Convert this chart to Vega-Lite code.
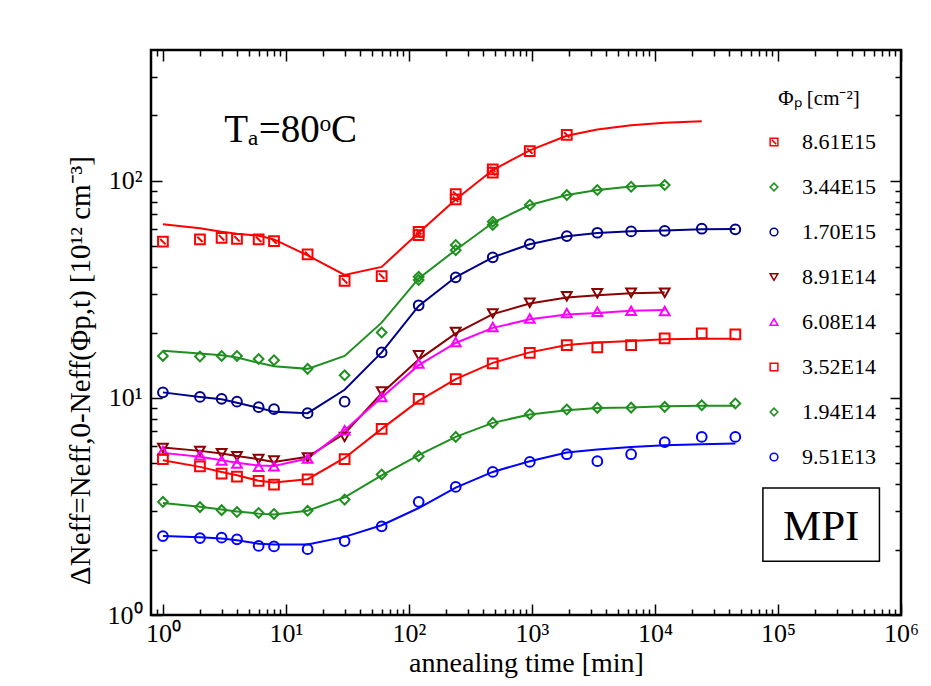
{
  "$schema": "https://vega.github.io/schema/vega-lite/v6.json",
  "width": 750,
  "height": 565,
  "autosize": {"type": "none"},
  "padding": {"left": 151, "top": 50, "right": 30, "bottom": 71},
  "background": "#ffffff",
  "config": {
    "font": "Liberation Serif",
    "view": {"stroke": "#000000", "strokeWidth": 2.5},
    "axis": {"domain": false, "grid": false, "tickColor": "#000000", "tickWidth": 1.5, "labelColor": "#000000", "titleColor": "#000000", "labelFont": "Liberation Serif", "titleFont": "Liberation Serif", "titleFontWeight": "normal", "labelOverlap": false, "labelFlush": false, "labelBound": false}
  },
  "datasets": {
    "pts": [
      {"s": "8.61E15", "t": 1, "v": 52.4}, {"s": "8.61E15", "t": 2, "v": 53.7}, {"s": "8.61E15", "t": 3, "v": 54.6}, {"s": "8.61E15", "t": 4, "v": 54.0}, {"s": "8.61E15", "t": 6, "v": 53.7}, {"s": "8.61E15", "t": 8, "v": 52.7}, {"s": "8.61E15", "t": 15, "v": 45.8}, {"s": "8.61E15", "t": 30, "v": 34.6}, {"s": "8.61E15", "t": 60, "v": 36.4}, {"s": "8.61E15", "t": 120, "v": 58.2}, {"s": "8.61E15", "t": 120, "v": 56.2}, {"s": "8.61E15", "t": 240, "v": 86.7}, {"s": "8.61E15", "t": 240, "v": 82.1}, {"s": "8.61E15", "t": 480, "v": 112.7}, {"s": "8.61E15", "t": 480, "v": 109.1}, {"s": "8.61E15", "t": 960, "v": 137}, {"s": "8.61E15", "t": 1920, "v": 162.5},
      {"s": "3.44E15", "t": 1, "v": 15.6}, {"s": "3.44E15", "t": 2, "v": 15.5}, {"s": "3.44E15", "t": 3, "v": 15.6}, {"s": "3.44E15", "t": 4, "v": 15.6}, {"s": "3.44E15", "t": 6, "v": 15.1}, {"s": "3.44E15", "t": 8, "v": 14.9}, {"s": "3.44E15", "t": 15, "v": 13.6}, {"s": "3.44E15", "t": 30, "v": 12.7}, {"s": "3.44E15", "t": 60, "v": 20.0}, {"s": "3.44E15", "t": 120, "v": 36.1}, {"s": "3.44E15", "t": 120, "v": 34.9}, {"s": "3.44E15", "t": 240, "v": 50.6}, {"s": "3.44E15", "t": 240, "v": 47.9}, {"s": "3.44E15", "t": 480, "v": 64.7}, {"s": "3.44E15", "t": 480, "v": 62.5}, {"s": "3.44E15", "t": 960, "v": 77.3}, {"s": "3.44E15", "t": 1920, "v": 85.9}, {"s": "3.44E15", "t": 3400, "v": 90.6}, {"s": "3.44E15", "t": 6400, "v": 93.8}, {"s": "3.44E15", "t": 12000, "v": 95.5},
      {"s": "1.70E15", "t": 1, "v": 10.6}, {"s": "1.70E15", "t": 2, "v": 10.1}, {"s": "1.70E15", "t": 3, "v": 9.9}, {"s": "1.70E15", "t": 4, "v": 9.6}, {"s": "1.70E15", "t": 6, "v": 9.06}, {"s": "1.70E15", "t": 8, "v": 8.87}, {"s": "1.70E15", "t": 15, "v": 8.5}, {"s": "1.70E15", "t": 30, "v": 9.6}, {"s": "1.70E15", "t": 60, "v": 16.2}, {"s": "1.70E15", "t": 120, "v": 26.7}, {"s": "1.70E15", "t": 240, "v": 35.9}, {"s": "1.70E15", "t": 480, "v": 44.4}, {"s": "1.70E15", "t": 960, "v": 51.1}, {"s": "1.70E15", "t": 1920, "v": 55.6}, {"s": "1.70E15", "t": 3400, "v": 57.6}, {"s": "1.70E15", "t": 6400, "v": 58.4}, {"s": "1.70E15", "t": 12000, "v": 58.8}, {"s": "1.70E15", "t": 24000, "v": 60.1}, {"s": "1.70E15", "t": 45000, "v": 59.7},
      {"s": "8.91E14", "t": 1, "v": 5.88}, {"s": "8.91E14", "t": 2, "v": 5.70}, {"s": "8.91E14", "t": 3, "v": 5.56}, {"s": "8.91E14", "t": 4, "v": 5.39}, {"s": "8.91E14", "t": 6, "v": 5.23}, {"s": "8.91E14", "t": 8, "v": 5.15}, {"s": "8.91E14", "t": 15, "v": 5.31}, {"s": "8.91E14", "t": 30, "v": 6.61}, {"s": "8.91E14", "t": 60, "v": 10.7}, {"s": "8.91E14", "t": 120, "v": 15.7}, {"s": "8.91E14", "t": 240, "v": 20.1}, {"s": "8.91E14", "t": 480, "v": 24.5}, {"s": "8.91E14", "t": 960, "v": 27.4}, {"s": "8.91E14", "t": 1920, "v": 29.4}, {"s": "8.91E14", "t": 3400, "v": 30.3}, {"s": "8.91E14", "t": 6400, "v": 30.5}, {"s": "8.91E14", "t": 12000, "v": 30.5},
      {"s": "6.08E14", "t": 1, "v": 5.70}, {"s": "6.08E14", "t": 2, "v": 5.44}, {"s": "6.08E14", "t": 3, "v": 5.15}, {"s": "6.08E14", "t": 4, "v": 4.98}, {"s": "6.08E14", "t": 6, "v": 4.81}, {"s": "6.08E14", "t": 8, "v": 4.84}, {"s": "6.08E14", "t": 15, "v": 5.26}, {"s": "6.08E14", "t": 30, "v": 7.10}, {"s": "6.08E14", "t": 60, "v": 10.1}, {"s": "6.08E14", "t": 120, "v": 14.4}, {"s": "6.08E14", "t": 240, "v": 18.1}, {"s": "6.08E14", "t": 480, "v": 21.2}, {"s": "6.08E14", "t": 960, "v": 23.2}, {"s": "6.08E14", "t": 1920, "v": 24.6}, {"s": "6.08E14", "t": 3400, "v": 24.9}, {"s": "6.08E14", "t": 6400, "v": 25.2}, {"s": "6.08E14", "t": 12000, "v": 25.1},
      {"s": "3.52E14", "t": 1, "v": 5.22}, {"s": "3.52E14", "t": 2, "v": 4.83}, {"s": "3.52E14", "t": 3, "v": 4.48}, {"s": "3.52E14", "t": 4, "v": 4.34}, {"s": "3.52E14", "t": 6, "v": 4.15}, {"s": "3.52E14", "t": 8, "v": 3.99}, {"s": "3.52E14", "t": 15, "v": 4.21}, {"s": "3.52E14", "t": 30, "v": 5.22}, {"s": "3.52E14", "t": 60, "v": 7.2}, {"s": "3.52E14", "t": 120, "v": 9.89}, {"s": "3.52E14", "t": 240, "v": 12.2}, {"s": "3.52E14", "t": 480, "v": 14.4}, {"s": "3.52E14", "t": 960, "v": 16.1}, {"s": "3.52E14", "t": 1920, "v": 17.5}, {"s": "3.52E14", "t": 3400, "v": 17.1}, {"s": "3.52E14", "t": 6400, "v": 17.5}, {"s": "3.52E14", "t": 12000, "v": 18.8}, {"s": "3.52E14", "t": 24000, "v": 19.8}, {"s": "3.52E14", "t": 45000, "v": 19.6},
      {"s": "1.94E14", "t": 1, "v": 3.32}, {"s": "1.94E14", "t": 2, "v": 3.14}, {"s": "1.94E14", "t": 3, "v": 3.04}, {"s": "1.94E14", "t": 4, "v": 2.98}, {"s": "1.94E14", "t": 6, "v": 2.95}, {"s": "1.94E14", "t": 8, "v": 2.92}, {"s": "1.94E14", "t": 15, "v": 3.02}, {"s": "1.94E14", "t": 30, "v": 3.40}, {"s": "1.94E14", "t": 60, "v": 4.44}, {"s": "1.94E14", "t": 120, "v": 5.39}, {"s": "1.94E14", "t": 240, "v": 6.61}, {"s": "1.94E14", "t": 480, "v": 7.67}, {"s": "1.94E14", "t": 960, "v": 8.41}, {"s": "1.94E14", "t": 1920, "v": 8.84}, {"s": "1.94E14", "t": 3400, "v": 8.99}, {"s": "1.94E14", "t": 6400, "v": 9.02}, {"s": "1.94E14", "t": 12000, "v": 9.09}, {"s": "1.94E14", "t": 24000, "v": 9.25}, {"s": "1.94E14", "t": 45000, "v": 9.42},
      {"s": "9.51E13", "t": 1, "v": 2.31}, {"s": "9.51E13", "t": 2, "v": 2.26}, {"s": "9.51E13", "t": 3, "v": 2.27}, {"s": "9.51E13", "t": 4, "v": 2.23}, {"s": "9.51E13", "t": 6, "v": 2.08}, {"s": "9.51E13", "t": 8, "v": 2.07}, {"s": "9.51E13", "t": 15, "v": 2.01}, {"s": "9.51E13", "t": 30, "v": 2.19}, {"s": "9.51E13", "t": 60, "v": 2.56}, {"s": "9.51E13", "t": 120, "v": 3.32}, {"s": "9.51E13", "t": 240, "v": 3.89}, {"s": "9.51E13", "t": 480, "v": 4.56}, {"s": "9.51E13", "t": 960, "v": 5.07}, {"s": "9.51E13", "t": 1920, "v": 5.50}, {"s": "9.51E13", "t": 3400, "v": 5.11}, {"s": "9.51E13", "t": 6400, "v": 5.50}, {"s": "9.51E13", "t": 12000, "v": 6.25}, {"s": "9.51E13", "t": 24000, "v": 6.61}, {"s": "9.51E13", "t": 45000, "v": 6.61}
    ],
    "fits": [
      {"s": "8.61E15", "t": 1, "v": 63.1}, {"s": "8.61E15", "t": 2, "v": 60.4}, {"s": "8.61E15", "t": 3, "v": 58.2}, {"s": "8.61E15", "t": 4, "v": 57.0}, {"s": "8.61E15", "t": 6, "v": 55.8}, {"s": "8.61E15", "t": 8, "v": 53.7}, {"s": "8.61E15", "t": 15, "v": 45.3}, {"s": "8.61E15", "t": 30, "v": 36.8}, {"s": "8.61E15", "t": 60, "v": 40.1}, {"s": "8.61E15", "t": 120, "v": 57.6}, {"s": "8.61E15", "t": 240, "v": 82}, {"s": "8.61E15", "t": 480, "v": 112}, {"s": "8.61E15", "t": 960, "v": 138}, {"s": "8.61E15", "t": 1920, "v": 161}, {"s": "8.61E15", "t": 3400, "v": 172}, {"s": "8.61E15", "t": 6400, "v": 180}, {"s": "8.61E15", "t": 12000, "v": 185}, {"s": "8.61E15", "t": 24000, "v": 188},
      {"s": "3.44E15", "t": 1, "v": 16.5}, {"s": "3.44E15", "t": 2, "v": 16.0}, {"s": "3.44E15", "t": 3, "v": 15.7}, {"s": "3.44E15", "t": 4, "v": 15.35}, {"s": "3.44E15", "t": 6, "v": 14.5}, {"s": "3.44E15", "t": 8, "v": 14.0}, {"s": "3.44E15", "t": 15, "v": 13.6}, {"s": "3.44E15", "t": 30, "v": 15.6}, {"s": "3.44E15", "t": 60, "v": 22.2}, {"s": "3.44E15", "t": 120, "v": 35.5}, {"s": "3.44E15", "t": 240, "v": 48}, {"s": "3.44E15", "t": 480, "v": 64}, {"s": "3.44E15", "t": 960, "v": 77.3}, {"s": "3.44E15", "t": 1920, "v": 86}, {"s": "3.44E15", "t": 3400, "v": 90.6}, {"s": "3.44E15", "t": 6400, "v": 94}, {"s": "3.44E15", "t": 12000, "v": 95.5},
      {"s": "1.70E15", "t": 1, "v": 10.6}, {"s": "1.70E15", "t": 2, "v": 10.1}, {"s": "1.70E15", "t": 3, "v": 9.85}, {"s": "1.70E15", "t": 4, "v": 9.5}, {"s": "1.70E15", "t": 6, "v": 9.0}, {"s": "1.70E15", "t": 8, "v": 8.62}, {"s": "1.70E15", "t": 15, "v": 8.5}, {"s": "1.70E15", "t": 30, "v": 10.9}, {"s": "1.70E15", "t": 60, "v": 16.2}, {"s": "1.70E15", "t": 120, "v": 26.5}, {"s": "1.70E15", "t": 240, "v": 36}, {"s": "1.70E15", "t": 480, "v": 44.4}, {"s": "1.70E15", "t": 960, "v": 51}, {"s": "1.70E15", "t": 1920, "v": 55.5}, {"s": "1.70E15", "t": 3400, "v": 57.5}, {"s": "1.70E15", "t": 6400, "v": 58.5}, {"s": "1.70E15", "t": 12000, "v": 59}, {"s": "1.70E15", "t": 24000, "v": 59.8}, {"s": "1.70E15", "t": 45000, "v": 60},
      {"s": "8.91E14", "t": 1, "v": 5.91}, {"s": "8.91E14", "t": 2, "v": 5.70}, {"s": "8.91E14", "t": 3, "v": 5.54}, {"s": "8.91E14", "t": 4, "v": 5.40}, {"s": "8.91E14", "t": 6, "v": 5.22}, {"s": "8.91E14", "t": 8, "v": 5.07}, {"s": "8.91E14", "t": 15, "v": 5.35}, {"s": "8.91E14", "t": 30, "v": 6.85}, {"s": "8.91E14", "t": 60, "v": 10.5}, {"s": "8.91E14", "t": 120, "v": 15.0}, {"s": "8.91E14", "t": 240, "v": 19.8}, {"s": "8.91E14", "t": 480, "v": 24.3}, {"s": "8.91E14", "t": 960, "v": 27.2}, {"s": "8.91E14", "t": 1920, "v": 29.0}, {"s": "8.91E14", "t": 3400, "v": 29.7}, {"s": "8.91E14", "t": 6400, "v": 30.3}, {"s": "8.91E14", "t": 12000, "v": 30.6},
      {"s": "6.08E14", "t": 1, "v": 5.58}, {"s": "6.08E14", "t": 2, "v": 5.35}, {"s": "6.08E14", "t": 3, "v": 5.16}, {"s": "6.08E14", "t": 4, "v": 5.02}, {"s": "6.08E14", "t": 6, "v": 4.88}, {"s": "6.08E14", "t": 8, "v": 4.86}, {"s": "6.08E14", "t": 15, "v": 5.26}, {"s": "6.08E14", "t": 30, "v": 7.10}, {"s": "6.08E14", "t": 60, "v": 10.04}, {"s": "6.08E14", "t": 120, "v": 14.15}, {"s": "6.08E14", "t": 240, "v": 17.9}, {"s": "6.08E14", "t": 480, "v": 21.0}, {"s": "6.08E14", "t": 960, "v": 23.0}, {"s": "6.08E14", "t": 1920, "v": 24.2}, {"s": "6.08E14", "t": 3400, "v": 24.6}, {"s": "6.08E14", "t": 6400, "v": 25.2}, {"s": "6.08E14", "t": 12000, "v": 25.4},
      {"s": "3.52E14", "t": 1, "v": 5.16}, {"s": "3.52E14", "t": 2, "v": 4.81}, {"s": "3.52E14", "t": 3, "v": 4.56}, {"s": "3.52E14", "t": 4, "v": 4.40}, {"s": "3.52E14", "t": 6, "v": 4.15}, {"s": "3.52E14", "t": 8, "v": 4.08}, {"s": "3.52E14", "t": 15, "v": 4.22}, {"s": "3.52E14", "t": 30, "v": 5.29}, {"s": "3.52E14", "t": 60, "v": 7.2}, {"s": "3.52E14", "t": 120, "v": 9.69}, {"s": "3.52E14", "t": 240, "v": 12.2}, {"s": "3.52E14", "t": 480, "v": 14.5}, {"s": "3.52E14", "t": 960, "v": 16.2}, {"s": "3.52E14", "t": 1920, "v": 17.5}, {"s": "3.52E14", "t": 3400, "v": 18.0}, {"s": "3.52E14", "t": 6400, "v": 18.3}, {"s": "3.52E14", "t": 12000, "v": 18.6}, {"s": "3.52E14", "t": 24000, "v": 18.7}, {"s": "3.52E14", "t": 45000, "v": 18.7},
      {"s": "1.94E14", "t": 1, "v": 3.28}, {"s": "1.94E14", "t": 2, "v": 3.15}, {"s": "1.94E14", "t": 3, "v": 3.06}, {"s": "1.94E14", "t": 4, "v": 3.0}, {"s": "1.94E14", "t": 6, "v": 2.93}, {"s": "1.94E14", "t": 8, "v": 2.90}, {"s": "1.94E14", "t": 15, "v": 3.02}, {"s": "1.94E14", "t": 30, "v": 3.48}, {"s": "1.94E14", "t": 60, "v": 4.40}, {"s": "1.94E14", "t": 120, "v": 5.45}, {"s": "1.94E14", "t": 240, "v": 6.61}, {"s": "1.94E14", "t": 480, "v": 7.67}, {"s": "1.94E14", "t": 960, "v": 8.39}, {"s": "1.94E14", "t": 1920, "v": 8.78}, {"s": "1.94E14", "t": 3400, "v": 8.99}, {"s": "1.94E14", "t": 6400, "v": 9.02}, {"s": "1.94E14", "t": 12000, "v": 9.16}, {"s": "1.94E14", "t": 24000, "v": 9.19}, {"s": "1.94E14", "t": 45000, "v": 9.19},
      {"s": "9.51E13", "t": 1, "v": 2.31}, {"s": "9.51E13", "t": 2, "v": 2.28}, {"s": "9.51E13", "t": 3, "v": 2.25}, {"s": "9.51E13", "t": 4, "v": 2.21}, {"s": "9.51E13", "t": 6, "v": 2.13}, {"s": "9.51E13", "t": 8, "v": 2.11}, {"s": "9.51E13", "t": 15, "v": 2.11}, {"s": "9.51E13", "t": 30, "v": 2.29}, {"s": "9.51E13", "t": 60, "v": 2.59}, {"s": "9.51E13", "t": 120, "v": 3.11}, {"s": "9.51E13", "t": 240, "v": 3.86}, {"s": "9.51E13", "t": 480, "v": 4.56}, {"s": "9.51E13", "t": 960, "v": 5.11}, {"s": "9.51E13", "t": 1920, "v": 5.60}, {"s": "9.51E13", "t": 3400, "v": 5.78}, {"s": "9.51E13", "t": 6400, "v": 5.94}, {"s": "9.51E13", "t": 12000, "v": 6.05}, {"s": "9.51E13", "t": 24000, "v": 6.12}, {"s": "9.51E13", "t": 45000, "v": 6.16}
    ]
  },
  "resolve": {"axis": {"x": "independent", "y": "independent"}},
  "layer": [
    {
      "data": {"name": "fits"},
      "mark": {"type": "line", "strokeWidth": 2},
      "encoding": {
        "x": {"field": "t", "type": "quantitative", "scale": {"type": "log", "domain": [0.8, 1000000], "nice": false},
          "axis": {"orient": "bottom", "values": [1, 10, 100, 1000, 10000, 100000, 1000000], "tickSize": -11, "labelPadding": 16, "labelFontSize": 26, "labelExpr": "['10⁰','10¹','10²','10³','10⁴','10⁵','10⁶'][round(log(datum.value)/LN10)]", "title": "annealing time [min]", "titleFontSize": 28, "titlePadding": 3}},
        "y": {"field": "v", "type": "quantitative", "scale": {"type": "log", "domain": [1, 400], "nice": false},
          "axis": {"orient": "left", "values": [1, 10, 100], "tickSize": -11, "labelPadding": 20, "labelFontSize": 26, "labelExpr": "['10⁰','10¹','10²'][round(log(datum.value)/LN10)]", "title": "ΔNeff=Neff,0-Neff(Φp,t) [10¹² cm⁻³]", "titleFontSize": 29, "titlePadding": 12, "titleY": 320}},
        "stroke": {"field": "s", "type": "nominal", "legend": null,
          "scale": {"domain": ["1.70E15", "1.94E14", "3.44E15", "3.52E14", "6.08E14", "8.61E15", "8.91E14", "9.51E13"], "range": ["#00008b", "#1f8f1f", "#1f8f1f", "#ff0000", "#ff00ff", "#ff0000", "#8b0000", "#0000ff"]}}
      }
    },
    {
      "data": {"name": "pts"},
      "mark": {"type": "point", "filled": false, "strokeWidth": 2, "size": 95, "opacity": 1},
      "encoding": {
        "x": {"field": "t", "type": "quantitative",
          "axis": {"orient": "bottom", "values": [0.9, 2, 3, 4, 5, 6, 7, 8, 9, 20, 30, 40, 50, 60, 70, 80, 90, 200, 300, 400, 500, 600, 700, 800, 900, 2000, 3000, 4000, 5000, 6000, 7000, 8000, 9000, 20000, 30000, 40000, 50000, 60000, 70000, 80000, 90000, 200000, 300000, 400000, 500000, 600000, 700000, 800000, 900000], "tickSize": -6, "labels": false, "title": null}},
        "y": {"field": "v", "type": "quantitative",
          "axis": {"orient": "left", "values": [2, 3, 4, 5, 6, 7, 8, 9, 20, 30, 40, 50, 60, 70, 80, 90, 200, 300], "tickSize": -6, "labels": false, "title": null}},
        "color": {"field": "s", "type": "nominal", "title": "Φₚ [cm⁻²]",
          "scale": {"domain": ["8.61E15", "3.44E15", "1.70E15", "8.91E14", "6.08E14", "3.52E14", "1.94E14", "9.51E13"], "range": ["#ff0000", "#1f8f1f", "#00008b", "#8b0000", "#ff00ff", "#ff0000", "#1f8f1f", "#0000ff"]},
          "legend": {"orient": "none", "legendX": 612, "legendY": 38, "padding": 0, "titleFont": "Liberation Serif", "titleFontSize": 21, "titleFontWeight": "normal", "titleColor": "#000000", "titleAnchor": "middle", "titlePadding": 22, "labelFont": "Liberation Serif", "labelFontSize": 22, "labelColor": "#000000", "labelOffset": 17, "rowPadding": 23, "symbolSize": 60, "symbolStrokeWidth": 1.5, "symbolOpacity": 1, "symbolFillColor": "transparent"}},
        "shape": {"field": "s", "type": "nominal", "title": "Φₚ [cm⁻²]",
          "scale": {"domain": ["8.61E15", "3.44E15", "1.70E15", "8.91E14", "6.08E14", "3.52E14", "1.94E14", "9.51E13"], "range": ["M-1,-1H1V1H-1Z M-0.55,-0.55L0.55,0.55", "diamond", "circle", "triangle-down", "triangle-up", "square", "diamond", "circle"]},
          "legend": {"orient": "none", "legendX": 612, "legendY": 38, "padding": 0, "titleFont": "Liberation Serif", "titleFontSize": 21, "titleFontWeight": "normal", "titleColor": "#000000", "titleAnchor": "middle", "titlePadding": 22, "labelFont": "Liberation Serif", "labelFontSize": 22, "labelColor": "#000000", "labelOffset": 17, "rowPadding": 23, "symbolSize": 60, "symbolStrokeWidth": 1.5, "symbolOpacity": 1, "symbolFillColor": "transparent"}}
      }
    },
    {
      "data": {"values": [{"t": 10.9, "v": 150, "label": "Tₐ=80ᵒC"}]},
      "mark": {"type": "text", "font": "Liberation Serif", "fontSize": 39, "align": "center", "baseline": "alphabetic", "color": "#000000"},
      "encoding": {
        "x": {"field": "t", "type": "quantitative", "axis": {"orient": "top", "values": [1, 10, 100, 1000, 10000, 100000, 1000000], "tickSize": -11, "labels": false, "title": null}},
        "y": {"field": "v", "type": "quantitative", "axis": {"orient": "right", "values": [1, 10, 100], "tickSize": -11, "labels": false, "title": null}},
        "text": {"field": "label"}
      }
    },
    {
      "data": {"values": [{"t": 75400, "t2": 668000, "v": 1.77, "v2": 3.85}]},
      "mark": {"type": "rect", "fill": "#ffffff", "stroke": "#000000", "strokeWidth": 1.5},
      "encoding": {
        "x": {"field": "t", "type": "quantitative", "axis": {"orient": "top", "values": [0.9, 2, 3, 4, 5, 6, 7, 8, 9, 20, 30, 40, 50, 60, 70, 80, 90, 200, 300, 400, 500, 600, 700, 800, 900, 2000, 3000, 4000, 5000, 6000, 7000, 8000, 9000, 20000, 30000, 40000, 50000, 60000, 70000, 80000, 90000, 200000, 300000, 400000, 500000, 600000, 700000, 800000, 900000], "tickSize": -6, "labels": false, "title": null}},
        "x2": {"field": "t2"},
        "y": {"field": "v", "type": "quantitative", "axis": {"orient": "right", "values": [2, 3, 4, 5, 6, 7, 8, 9, 20, 30, 40, 50, 60, 70, 80, 90, 200, 300], "tickSize": -6, "labels": false, "title": null}},
        "y2": {"field": "v2"}
      }
    },
    {
      "data": {"values": [{"t": 224400, "v": 2.21, "label": "MPI"}]},
      "mark": {"type": "text", "font": "Liberation Serif", "fontSize": 43, "align": "center", "baseline": "alphabetic", "color": "#000000"},
      "encoding": {
        "x": {"field": "t", "type": "quantitative", "axis": null},
        "y": {"field": "v", "type": "quantitative", "axis": null},
        "text": {"field": "label"}
      }
    }
  ]
}
